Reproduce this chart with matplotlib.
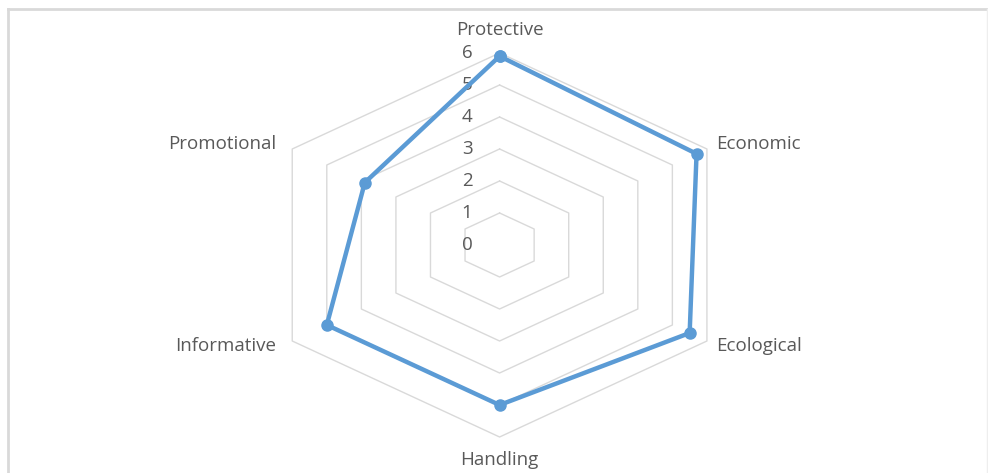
import numpy as np
import matplotlib.pyplot as plt
from matplotlib.lines import Line2D

categories = ['Protective', 'Economic', 'Ecological', 'Handling', 'Informative', 'Promotional']
values = [5.9, 5.7, 5.5, 5.0, 5.0, 3.9]
ticks = [0, 1, 2, 3, 4, 5, 6]

plt.rcParams['font.family'] = ['Open Sans', 'DejaVu Sans']

grid_col = '#d9d9d9'
text_col = '#595959'
line_col = '#5b9bd5'

fig = plt.figure(figsize=(9.88, 4.73), dpi=100)
ax = fig.add_axes([0, 0, 1, 1])
ax.set_xlim(-12.52, 12.24)
ax.set_ylim(-7.125, 7.656)
ax.axis('off')

n = len(categories)
theta = np.arange(n) * 2 * np.pi / n
ring = np.append(theta, theta[0])

# hexagonal grid, ring at each tick from 1 up
for r in ticks[1:]:
    ax.plot(r * np.sin(ring), r * np.cos(ring), color=grid_col, lw=1, zorder=1)

# tick labels along the top spoke
for r in ticks:
    ax.text(-0.68, r, str(r), ha='right', va='center', fontsize=13.5, color=text_col)

# data polygon
v = np.append(values, values[0])
ax.plot(v * np.sin(ring), v * np.cos(ring), color=line_col, lw=3.2,
        marker='o', markersize=8, zorder=3, solid_joinstyle='round')

# category labels
for t, name in zip(theta, categories):
    s, c = np.sin(t), np.cos(t)
    if abs(s) < 1e-6:
        ax.text(0, 6.72 * c, name, ha='center', va='center', fontsize=13.5, color=text_col)
    elif s > 0:
        ax.text(6.27 * s, 6.3 * c, name, ha='left', va='center', fontsize=13.5, color=text_col)
    else:
        ax.text(6.47 * s, 6.3 * c, name, ha='right', va='center', fontsize=13.5, color=text_col)

# chart frame
fc = '#d9d9d9'
fig.add_artist(Line2D([8 / 988, 1], [1 - 9 / 473, 1 - 9 / 473], color=fc, lw=2, transform=fig.transFigure))
fig.add_artist(Line2D([8 / 988, 8 / 988], [0, 1 - 9 / 473], color=fc, lw=2, transform=fig.transFigure))
fig.add_artist(Line2D([987 / 988, 987 / 988], [0, 1 - 9 / 473], color='#eeeeee', lw=1, transform=fig.transFigure))

fig.savefig('out.png', dpi=100)
